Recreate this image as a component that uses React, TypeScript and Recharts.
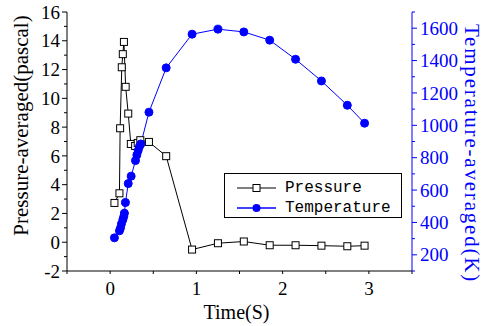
import React from 'react';
import { LineChart, Line, XAxis, YAxis, Legend, Label } from 'recharts';

const pressureTime = [0.05, 0.108, 0.116, 0.135, 0.147, 0.16, 0.18, 0.21, 0.24, 0.29, 0.32, 0.35, 0.45, 0.65, 0.95, 1.25, 1.55, 1.85, 2.15, 2.45, 2.75, 2.95];
const pressureValues = [2.73, 3.4, 7.92, 12.16, 13.07, 13.92, 10.8, 8.94, 6.83, 6.69, 6.9, 7.09, 6.97, 5.98, -0.51, -0.07, 0.05, -0.21, -0.21, -0.24, -0.28, -0.24];
const temperatureTime = [0.05, 0.108, 0.12, 0.131, 0.147, 0.158, 0.166, 0.178, 0.21, 0.244, 0.294, 0.31, 0.325, 0.34, 0.356, 0.45, 0.65, 0.95, 1.25, 1.55, 1.85, 2.15, 2.45, 2.75, 2.95];
const temperatureValues = [305, 348, 365, 391, 416, 436, 457, 523, 640, 686, 782, 817, 844, 869, 885, 1081, 1355, 1563, 1594, 1577, 1526, 1408, 1274, 1124, 1013];

const xTicks = [-0.5, 0, 0.5, 1, 1.5, 2, 2.5, 3, 3.5];
const xLabels = [0, 1, 2, 3];
const pressureTicks = [-2, -1, 0, 1, 2, 3, 4, 5, 6, 7, 8, 9, 10, 11, 12, 13, 14, 15, 16];
const pressureLabels = [-2, 0, 2, 4, 6, 8, 10, 12, 14, 16];
const temperatureTicks = [100, 200, 300, 400, 500, 600, 700, 800, 900, 1000, 1100, 1200, 1300, 1400, 1500, 1600, 1700];
const temperatureLabels = [200, 400, 600, 800, 1000, 1200, 1400, 1600];

const pressureData = pressureTime.map((t, i) => ({ time: t, pressure: pressureValues[i] }));
const temperatureData = temperatureTime.map((t, i) => ({ time: t, temperature: temperatureValues[i] }));

const SERIF = '"Liberation Serif", "Times New Roman", serif';
const MONO = '"Liberation Mono", "DejaVu Sans Mono", monospace';
const BLUE = '#0000ff';

function LeftTick(props: any) {
  const { x, y, payload } = props;
  const major = pressureLabels.includes(payload.value);
  const len = major ? 5 : 3;
  return (
    <g>
      <line x1={x - len} x2={x} y1={y} y2={y} stroke="#000" strokeWidth={1} />
      {major && (
        <text x={x - 7} y={y} dy="0.35em" textAnchor="end" fontFamily={SERIF} fontSize={19} fill="#000">
          {payload.value}
        </text>
      )}
    </g>
  );
}

function RightTick(props: any) {
  const { x, y, payload } = props;
  const major = payload.value % 200 === 0;
  const labeled = temperatureLabels.includes(payload.value);
  const len = major ? 5 : 3;
  return (
    <g>
      <line x1={x} x2={x + len} y1={y} y2={y} stroke={BLUE} strokeWidth={1} />
      {labeled && (
        <text x={x + 8} y={y} dy="0.35em" textAnchor="start" fontFamily={SERIF} fontSize={19} fill={BLUE}>
          {payload.value}
        </text>
      )}
    </g>
  );
}

function BottomTick(props: any) {
  const { x, y, payload } = props;
  const labeled = xLabels.includes(payload.value);
  return (
    <g>
      <line x1={x} x2={x} y1={y} y2={y + 3} stroke="#000" strokeWidth={1} />
      {labeled && (
        <text x={x} y={y + 24} textAnchor="middle" fontFamily={SERIF} fontSize={19} fill="#000">
          {payload.value}
        </text>
      )}
    </g>
  );
}

function SquareDot(props: any) {
  const { cx, cy, index } = props;
  if (cx == null || cy == null) return <g key={`sq-${index}`} />;
  return <rect key={`sq-${index}`} x={cx - 3.5} y={cy - 3.5} width={7} height={7} fill="#fff" stroke="#000" strokeWidth={1} />;
}

function CircleDot(props: any) {
  const { cx, cy, index } = props;
  if (cx == null || cy == null) return <g key={`ci-${index}`} />;
  return <circle key={`ci-${index}`} cx={cx} cy={cy} r={4} fill={BLUE} stroke={BLUE} strokeWidth={1} />;
}

function LegendBox() {
  const rows = [
    { name: 'Pressure', color: '#555', marker: 'square' },
    { name: 'Temperature', color: BLUE, marker: 'circle' },
  ];
  return (
    <div
      style={{
        width: 178,
        height: 45,
        boxSizing: 'border-box',
        border: '1px solid #000',
        background: '#fff',
        position: 'relative',
      }}
    >
      {rows.map((r, i) => (
        <div key={r.name} style={{ position: 'absolute', left: 0, top: 4 + i * 20, height: 20, display: 'flex', alignItems: 'center' }}>
          <svg width={60} height={20} style={{ display: 'block' }}>
            <line x1={12} x2={51} y1={10} y2={10} stroke={r.color} strokeWidth={1.5} />
            {r.marker === 'square' ? (
              <rect x={28} y={6.5} width={7} height={7} fill="#fff" stroke="#000" />
            ) : (
              <circle cx={31.5} cy={10} r={4} fill={BLUE} />
            )}
          </svg>
          <span style={{ fontFamily: MONO, fontSize: 16, color: '#000', lineHeight: '20px' }}>{r.name}</span>
        </div>
      ))}
    </div>
  );
}

export default function App() {
  return (
    <div style={{ position: 'absolute', left: 0, top: 0, background: '#fff' }}>
      <LineChart width={483} height={326} margin={{ top: 12, right: 0, bottom: 0, left: 0 }}>
        <XAxis
          xAxisId="bottom"
          dataKey="time"
          type="number"
          domain={[-0.5, 3.5]}
          ticks={xTicks}
          interval={0}
          allowDataOverflow
          height={55}
          stroke="#000"
          tickSize={0}
          tickMargin={0}
          tickLine={false}
          tick={<BottomTick />}
        >
          <Label
            content={(p: any) => {
              const vb = p.viewBox;
              return (
                <text x={vb.x + vb.width / 2 - 3} y={vb.y + 48} textAnchor="middle" fontFamily={SERIF} fontSize={20} fill="#000">
                  Time(S)
                </text>
              );
            }}
          />
        </XAxis>
        <XAxis
          xAxisId="top"
          dataKey="time"
          type="number"
          orientation="top"
          domain={[-0.5, 3.5]}
          ticks={xTicks}
          interval={0}
          allowDataOverflow
          height={0}
          mirror
          stroke="#000"
          tickSize={4}
          tick={false}
        />
        <YAxis
          yAxisId="left"
          orientation="left"
          domain={[-2, 16]}
          ticks={pressureTicks}
          interval={0}
          allowDataOverflow
          width={67}
          stroke="#000"
          tickSize={0}
          tickMargin={0}
          tickLine={false}
          tick={<LeftTick />}
        >
          <Label
            content={(p: any) => {
              const vb = p.viewBox;
              const cx = vb.x + 21;
              const cy = vb.y + vb.height / 2 - 16;
              return (
                <text x={cx} y={cy} dy="0.35em" textAnchor="middle" transform={`rotate(-90, ${cx}, ${cy})`} fontFamily={SERIF} fontSize={21} fill="#000">
                  Pressure-averaged(pascal)
                </text>
              );
            }}
          />
        </YAxis>
        <YAxis
          yAxisId="right"
          orientation="right"
          domain={[100, 1700]}
          ticks={temperatureTicks}
          interval={0}
          allowDataOverflow
          width={71}
          stroke={BLUE}
          tickSize={0}
          tickMargin={0}
          tickLine={false}
          tick={<RightTick />}
        >
          <Label
            content={(p: any) => {
              const vb = p.viewBox;
              const cx = vb.x + 60;
              const cy = vb.y + vb.height / 2 + 12;
              return (
                <text x={cx} y={cy} dy="0.35em" textAnchor="middle" transform={`rotate(90, ${cx}, ${cy})`} fontFamily={SERIF} fontSize={21} letterSpacing={1.8} fill={BLUE}>
                  Temperature-averaged(K)
                </text>
              );
            }}
          />
        </YAxis>
        <Legend
          layout="vertical"
          align="center"
          verticalAlign="middle"
          wrapperStyle={{ left: 224, top: 173, width: 178, height: 45 }}
          content={() => <LegendBox />}
        />
        <Line
          xAxisId="bottom"
          yAxisId="left"
          data={pressureData}
          dataKey="pressure"
          name="Pressure"
          stroke="#000"
          strokeWidth={1}
          dot={(p: any) => <SquareDot {...p} key={`sq-${p.index}`} />}
          activeDot={false}
          isAnimationActive={false}
        />
        <Line
          xAxisId="bottom"
          yAxisId="right"
          data={temperatureData}
          dataKey="temperature"
          name="Temperature"
          stroke={BLUE}
          strokeWidth={1}
          dot={(p: any) => <CircleDot {...p} key={`ci-${p.index}`} />}
          activeDot={false}
          isAnimationActive={false}
        />
      </LineChart>
    </div>
  );
}
